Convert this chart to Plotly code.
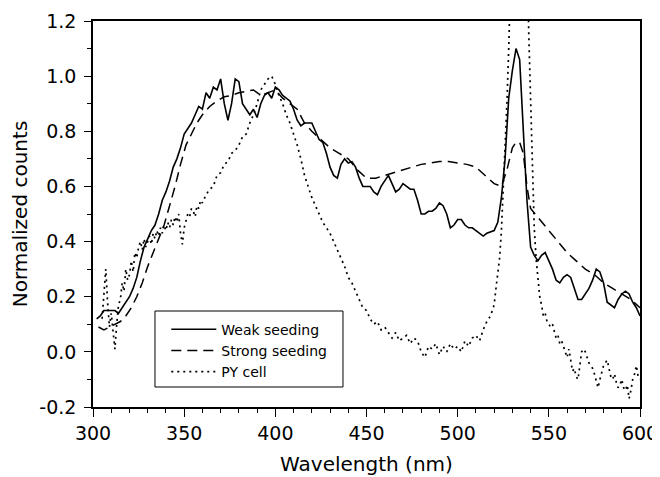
import plotly.graph_objects as go

# ---------------- data ----------------
weak_wl = [302,304,306,308,310,312,314,316,318,320,322,324,326,328,330,332,334,336,338,340,
           342,344,346,348,350,352,354,356,358,360,362,364,366,368,370,372,374,376,378,380,
           382,384,386,388,390,392,394,396,398,400,402,404,406,408,410,412,414,416,418,420,
           422,424,426,428,430,432,434,436,438,440,442,444,446,448,450,452,454,456,458,460,
           462,464,466,468,470,472,474,476,478,480,482,484,486,488,490,492,494,496,498,500,
           502,504,506,508,510,512,514,516,518,520,522,524,526,528,530,532,534,536,538,540,
           542,544,546,548,550,552,554,556,558,560,562,564,566,568,570,572,574,576,578,580,
           582,584,586,588,590,592,594,596,598,600]
weak_counts = [0.12,0.13,0.15,0.15,0.15,0.15,0.14,0.16,0.18,0.20,0.23,0.27,0.33,0.38,0.41,0.44,0.46,0.50,0.55,0.58,
               0.62,0.67,0.70,0.74,0.79,0.81,0.83,0.86,0.89,0.88,0.94,0.92,0.96,0.95,0.99,0.90,0.84,0.90,0.99,0.98,
               0.90,0.88,0.86,0.88,0.85,0.90,0.93,0.94,0.92,0.96,0.95,0.93,0.92,0.91,0.88,0.84,0.82,0.83,0.83,0.83,
               0.80,0.77,0.76,0.72,0.67,0.64,0.63,0.68,0.70,0.685,0.69,0.67,0.63,0.60,0.60,0.60,0.58,0.57,0.60,0.62,
               0.64,0.61,0.58,0.59,0.61,0.60,0.59,0.59,0.55,0.50,0.50,0.51,0.51,0.52,0.54,0.53,0.50,0.45,0.46,0.48,
               0.48,0.46,0.45,0.45,0.44,0.43,0.42,0.43,0.435,0.44,0.47,0.56,0.70,0.92,1.02,1.10,1.06,0.82,0.55,0.38,
               0.35,0.33,0.35,0.36,0.33,0.30,0.26,0.25,0.27,0.28,0.27,0.23,0.19,0.19,0.21,0.23,0.26,0.30,0.29,0.25,
               0.18,0.17,0.16,0.19,0.21,0.22,0.21,0.18,0.16,0.13]

strong_wl = [303,306,309,312,315,318,321,324,327,330,333,336,339,342,345,348,351,354,357,360,
             364,368,372,376,380,384,388,392,396,400,404,408,412,416,420,425,430,435,440,445,
             450,455,460,465,470,475,480,485,490,495,500,505,510,515,520,524,527,530,532,534,
             536,538,540,545,550,555,560,565,570,575,580,585,590,595,600]
strong_counts = [0.09,0.08,0.09,0.10,0.11,0.13,0.16,0.20,0.25,0.31,0.36,0.41,0.46,0.53,0.60,0.68,0.75,0.79,0.83,0.86,
                 0.89,0.91,0.925,0.93,0.94,0.945,0.95,0.93,0.94,0.95,0.92,0.90,0.88,0.83,0.80,0.77,0.74,0.72,0.70,0.66,
                 0.63,0.63,0.64,0.65,0.66,0.67,0.68,0.685,0.69,0.69,0.685,0.68,0.67,0.64,0.61,0.60,0.66,0.74,0.76,0.76,
                 0.72,0.60,0.52,0.48,0.44,0.40,0.36,0.33,0.30,0.28,0.25,0.23,0.21,0.19,0.16]

py_wl = [305,306,307,308,309,310,311,312,313,314,315,316,317,318,319,320,321,322,323,324,
         325,326,327,328,329,330,331,332,333,334,335,336,337,338,339,340,341,342,343,344,
         345,346,347,348,349,350,351,352,353,354,355,356,357,358,359,360,362,364,366,368,
         370,372,374,376,378,380,382,384,386,388,390,392,394,396,398,400,402,404,406,408,
         410,412,414,416,418,420,422,424,426,428,430,432,434,436,438,440,442,444,446,448,
         450,452,454,456,458,460,462,464,466,468,470,472,474,476,478,480,482,484,486,488,
         490,492,494,496,498,500,502,504,506,508,510,512,514,516,518,520,521,522,523,524,
         525,526,527,528,529,530,535,538,539,540,541,542,543,544,545,546,547,548,549,550,
         551,552,553,554,555,556,557,558,559,560,561,562,563,564,565,566,567,568,569,570,
         571,572,573,574,575,576,577,578,579,580,581,582,583,584,585,586,587,588,589,590,
         591,592,593,594,595,596,597,598,599,600]
py_counts = [0.12,0.22,0.30,0.18,0.09,0.14,0.06,0.01,0.10,0.17,0.19,0.25,0.22,0.30,0.26,0.28,0.33,0.29,0.36,0.34,
             0.38,0.40,0.37,0.41,0.38,0.40,0.42,0.39,0.43,0.41,0.44,0.42,0.45,0.43,0.46,0.44,0.47,0.45,0.48,0.46,
             0.49,0.47,0.50,0.43,0.39,0.45,0.48,0.50,0.49,0.52,0.51,0.49,0.53,0.52,0.55,0.54,0.57,0.59,0.60,0.64,
             0.65,0.68,0.69,0.72,0.73,0.75,0.78,0.79,0.83,0.86,0.90,0.95,0.97,0.99,1.00,0.97,0.93,0.90,0.86,0.83,
             0.79,0.75,0.70,0.64,0.60,0.56,0.53,0.50,0.47,0.45,0.43,0.40,0.37,0.34,0.31,0.27,0.25,0.22,0.19,0.16,
             0.15,0.12,0.10,0.11,0.08,0.09,0.07,0.05,0.07,0.04,0.05,0.06,0.03,0.05,0.04,0.00,-0.02,0.02,0.01,0.03,
             -0.01,0.02,0.00,0.03,0.01,0.02,0.00,0.04,0.02,0.05,0.06,0.04,0.08,0.11,0.13,0.17,0.23,0.28,0.34,0.44,
             0.58,0.72,0.90,1.10,1.30,1.60,1.80,1.50,1.15,0.90,0.62,0.45,0.34,0.27,0.20,0.17,0.13,0.14,0.11,0.10,
             0.09,0.10,0.07,0.05,0.06,0.03,0.04,0.02,0.00,-0.02,0.01,-0.04,-0.07,-0.06,-0.09,-0.10,-0.05,0.00,0.01,0.00,
             -0.02,-0.04,-0.05,-0.06,-0.08,-0.11,-0.13,-0.10,-0.07,-0.05,-0.04,-0.03,-0.06,-0.09,-0.10,-0.08,-0.11,-0.13,-0.12,-0.10,
             -0.13,-0.14,-0.12,-0.17,-0.14,-0.10,-0.08,-0.05,-0.09,-0.10]

x_tick_vals = [300, 350, 400, 450, 500, 550, 600]
y_tick_vals = [-0.2, 0.0, 0.2, 0.4, 0.6, 0.8, 1.0, 1.2]
y_tick_text = ["-0.2", "0.0", "0.2", "0.4", "0.6", "0.8", "1.0", "1.2"]

# ---------------- figure ----------------
FONT = "DejaVu Sans"
fig = go.Figure()
fig.add_trace(go.Scatter(x=weak_wl, y=weak_counts, mode="lines", name="Weak seeding",
                         line=dict(color="black", width=1.6)))
fig.add_trace(go.Scatter(x=strong_wl, y=strong_counts, mode="lines", name="Strong seeding",
                         line=dict(color="black", width=1.5, dash="10px,6px")))
fig.add_trace(go.Scatter(x=py_wl, y=py_counts, mode="lines", name="PY cell",
                         line=dict(color="black", width=1.7, dash="2px,4px")))

axis_common = dict(showgrid=False, zeroline=False, showline=True, linecolor="black",
                   linewidth=1.5, mirror=True, ticks="outside", tickcolor="black",
                   tickwidth=1.2, automargin=False,
                   tickfont=dict(family=FONT, size=19, color="black"))

# legend frame (paper coordinates)
fig.add_shape(type="rect", xref="paper", yref="paper",
              x0=0.1133, x1=0.457, y0=0.0518, y1=0.2487,
              line=dict(color="black", width=1), fillcolor="white", layer="above")

fig.update_layout(
    width=652, height=469,
    margin=dict(l=85, r=20, t=13, b=70),
    paper_bgcolor="white", plot_bgcolor="white",
    font=dict(family=FONT, color="black"),
    showlegend=True,
    legend=dict(x=0.134, y=0.242, xanchor="left", yanchor="top",
                borderwidth=0, bgcolor="rgba(0,0,0,0)",
                font=dict(family=FONT, size=14, color="black"),
                itemwidth=45, tracegroupgap=0),
    xaxis=dict(range=[300, 600], tickvals=x_tick_vals, ticklen=8,
               minor=dict(dtick=10, ticklen=4, ticks="outside", tickcolor="black", tickwidth=1.2),
               title=dict(text="Wavelength (nm)", font=dict(family=FONT, size=20), standoff=14),
               **axis_common),
    yaxis=dict(range=[-0.2, 1.2], tickvals=y_tick_vals, ticktext=y_tick_text, ticklen=7,
               ticklabelstandoff=4,
               minor=dict(dtick=0.1, ticklen=4, ticks="outside", tickcolor="black", tickwidth=1.2),
               title=dict(text="Normalized counts", font=dict(family=FONT, size=20), standoff=12),
               **axis_common),
)

fig.write_html("out.html")
